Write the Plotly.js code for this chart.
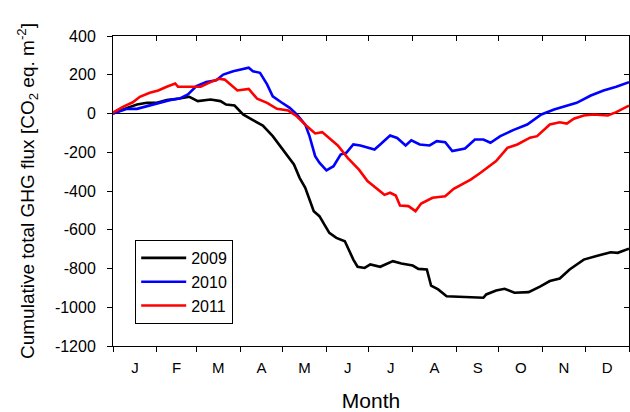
<!DOCTYPE html>
<html>
<head>
<meta charset="utf-8">
<script src="https://cdn.plot.ly/plotly-3.0.1.min.js"></script>
<style>html,body{margin:0;padding:0;background:#fff;}#chart{width:630px;height:412px;}</style>
</head>
<body>
<div id="chart"></div>
<script>
// Day of year (x) and cumulative flux (y)
const days2009 = [0,5,10,17,24,31,38,47,54,60,69,76,80,86,92,99,106,113,120,128,132,136,139,142,146,153,158,164,170,173,178,182,189,198,204,212,216,222,225,230,236,245,255,262,264,271,277,284,294,302,309,316,323,333,342,352,357,365];
const flux2009 = [0,15,29,46,55,55,69,77,86,64,72,64,46,41,-5,-34,-62,-117,-186,-263,-332,-384,-444,-504,-530,-616,-642,-659,-754,-791,-797,-779,-791,-762,-774,-785,-802,-805,-888,-908,-943,-946,-951,-951,-934,-914,-905,-925,-922,-894,-865,-852,-805,-754,-736,-716,-719,-698];

const days2010 = [0,10,17,26,33,40,47,53,59,66,73,78,85,96,99,104,109,113,119,125,130,136,139,143,146,151,156,161,165,170,175,180,185,189,196,201,207,211,217,224,229,235,240,249,256,262,267,274,283,293,303,312,321,328,338,347,356,365];
const flux2010 = [0,24,24,41,52,69,77,98,141,162,172,201,218,236,218,210,150,89,58,29,-5,-57,-117,-220,-254,-293,-272,-212,-203,-160,-165,-177,-186,-160,-114,-126,-165,-138,-160,-165,-143,-148,-194,-181,-134,-134,-151,-117,-86,-57,-5,21,41,55,93,119,138,162];

const days2011 = [0,7,14,19,26,32,38,44,46,55,62,69,75,79,84,88,96,102,109,116,124,130,137,143,148,154,159,166,174,180,183,192,196,200,203,209,214,218,226,235,241,246,253,260,266,271,279,286,295,300,309,316,321,326,333,340,350,356,365];
const flux2011 = [5,34,58,86,107,119,138,155,138,138,138,162,179,175,141,119,127,76,55,24,15,-14,-65,-103,-96,-134,-165,-229,-290,-349,-366,-420,-409,-423,-475,-478,-504,-465,-435,-427,-389,-370,-341,-306,-272,-246,-177,-160,-125,-117,-57,-45,-52,-27,-10,-5,-10,7,41];

const monthEdges = [0,31,59,90,120,151,181,212,243,273,304,334,365];
const monthMids = [15.5,45,74.5,105,135.5,166,196.5,227.5,258,288.5,319,349.5];
const monthLabels = ['J','F','M','A','M','J','J','A','S','O','N','D'];
const yTicks = [-1200,-1000,-800,-600,-400,-200,0,200,400];
const yTickLabels = ['-1200','-1000','-800','-600','-400','-200','0','200','400'];

const FONT = '"Liberation Sans", Arial, Helvetica, sans-serif';

const traces = [
  {x: days2009, y: flux2009, name: '2009', mode: 'lines', line: {color: '#000000', width: 2.6}},
  {x: days2010, y: flux2010, name: '2010', mode: 'lines', line: {color: '#0000ff', width: 2.6}},
  {x: days2011, y: flux2011, name: '2011', mode: 'lines', line: {color: '#ff0000', width: 2.6}},
  {x: [], y: [], xaxis: 'x2', yaxis: 'y2', showlegend: false, hoverinfo: 'skip', mode: 'lines'}
];

const layout = {
  width: 630, height: 412,
  margin: {l: 113, r: 1, t: 36, b: 66, pad: 0},
  paper_bgcolor: '#ffffff', plot_bgcolor: '#ffffff',
  font: {family: FONT, color: '#000000', size: 15},
  showlegend: true,
  legend: {
    x: 0.043, y: 0.342, xanchor: 'left', yanchor: 'top',
    bordercolor: '#000000', borderwidth: 1, bgcolor: '#ffffff',
    itemwidth: 45, tracegroupgap: 0,
    font: {family: FONT, size: 16, color: '#000000'}
  },
  xaxis: {
    range: [0, 365], tickmode: 'array', tickvals: monthMids, ticktext: monthLabels,
    ticks: '', showline: true, linecolor: '#000000', linewidth: 1, mirror: true,
    showgrid: false, zeroline: false, tickfont: {family: FONT, size: 15},
    ticklabelstandoff: 8,
    minor: {tickmode: 'array', tickvals: monthEdges, ticks: 'outside', ticklen: 5, tickcolor: '#000000', tickwidth: 1, showgrid: false},
    title: {text: 'Month', font: {family: FONT, size: 21}, standoff: 19}
  },
  xaxis2: {
    overlaying: 'x', side: 'top', anchor: 'y', range: [0, 365],
    tickmode: 'array', tickvals: monthEdges, ticks: 'inside', ticklen: 5, tickcolor: '#000000',
    showticklabels: false, showline: false, showgrid: false, zeroline: false
  },
  yaxis: {
    range: [-1200, 400], tickmode: 'array', tickvals: yTicks, ticktext: yTickLabels,
    ticks: 'outside', ticklen: 5, tickcolor: '#000000', tickwidth: 1,
    showline: true, linecolor: '#000000', linewidth: 1, mirror: true,
    showgrid: false, zeroline: true, zerolinecolor: '#000000', zerolinewidth: 1,
    tickfont: {family: FONT, size: 16}, ticklabelstandoff: 8,
    title: {text: 'Cumulative total GHG flux [CO<sub>2</sub> eq. m<sup>-2</sup>]', font: {family: FONT, size: 19}, standoff: 15}
  },
  yaxis2: {
    overlaying: 'y', side: 'right', anchor: 'x', range: [-1200, 400],
    tickmode: 'array', tickvals: yTicks, ticks: 'inside', ticklen: 5, tickcolor: '#000000',
    showticklabels: false, showline: false, showgrid: false, zeroline: false
  }
};

Plotly.newPlot('chart', traces, layout, {displayModeBar: false, staticPlot: true});
</script>
</body>
</html>
